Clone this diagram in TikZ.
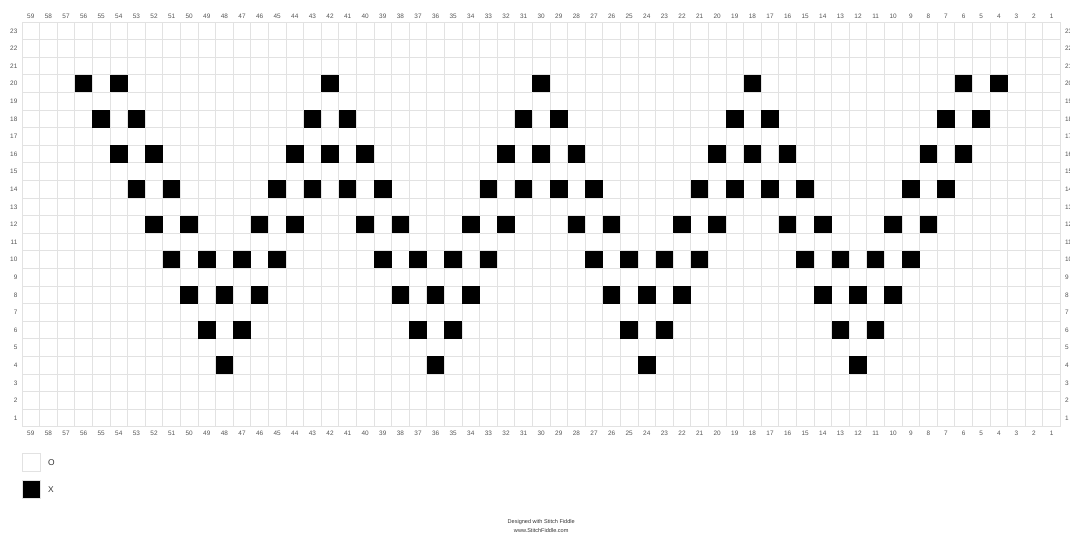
\documentclass[tikz,border=0pt]{standalone}
\usepackage{fontspec}
\setmainfont{Liberation Sans}
\usepackage{xcolor}
\usepackage{tikz}
\usetikzlibrary{positioning}
\definecolor{ChartGrid}{HTML}{E2E2E2}
\definecolor{ChartLabel}{HTML}{555555}
\definecolor{ChartText}{HTML}{333333}

\begin{document}
\begin{tikzpicture}[
  x=0.5cm, y=0.5cm,
  gridline/.style={draw=ChartGrid, line width=0.6pt},
  stitchx/.style={fill=black},
  numlabel/.style={font=\fontsize{5.2}{6}\selectfont, text=ChartLabel, inner sep=0pt},
  legendbox/.style={draw=ChartGrid, line width=0.6pt, minimum size=0.525cm, inner sep=0pt},
  keytext/.style={font=\fontsize{6.8}{8}\selectfont, text=ChartText, inner sep=0pt},
  credittext/.style={font=\fontsize{4.5}{5.5}\selectfont, text=ChartText, inner sep=0pt}
]
\useasboundingbox (-1.25,-5.98) rectangle (59.545,24.25);
% chart grid
\draw[gridline, step=1] (0,0) grid (59,23);
% X stitches, row/columns
\foreach \r/\cols in {20/{56,54,42,30,18,6,4},
                      18/{55,53,43,41,31,29,19,17,7,5},
                      16/{54,52,44,42,40,32,30,28,20,18,16,8,6},
                      14/{53,51,45,43,41,39,33,31,29,27,21,19,17,15,9,7},
                      12/{52,50,46,44,40,38,34,32,28,26,22,20,16,14,10,8},
                      10/{51,49,47,45,39,37,35,33,27,25,23,21,15,13,11,9},
                      8/{50,48,46,38,36,34,26,24,22,14,12,10},
                      6/{49,47,37,35,25,23,13,11},
                      4/{48,36,24,12}}
  \foreach \c in \cols
    \fill[stitchx] ({59-\c},{\r-1}) rectangle +(1,1);
% column and row numbers
\foreach \c in {1,...,59} {
  \node[numlabel] (top-\c) at ({59.5-\c},23.34) {\c};
  \node[numlabel] (bot-\c) at ({59.5-\c},-0.38) {\c};
}
\foreach \r in {1,...,23} {
  \node[numlabel, anchor=east] (left-\r) at (-0.25,{\r-0.5}) {\r};
  \node[numlabel, anchor=west] (right-\r) at (59.25,{\r-0.5}) {\r};
}
% legend
\node[legendbox, fill=white] (key-o) at (0.53,-2.02) {};
\node[keytext, anchor=west, right=0.2cm of key-o] (key-o-text) {O};
\node[legendbox, fill=black, below=0.22cm of key-o] (key-x) {};
\node[keytext, anchor=west, right=0.2cm of key-x] (key-x-text) {X};
% credit
\node[credittext] (credit) at (29.5,-5.42) {Designed with Stitch Fiddle};
\node[credittext, below=0.1cm of credit] (site) {www.StitchFiddle.com};
\end{tikzpicture}
\end{document}
